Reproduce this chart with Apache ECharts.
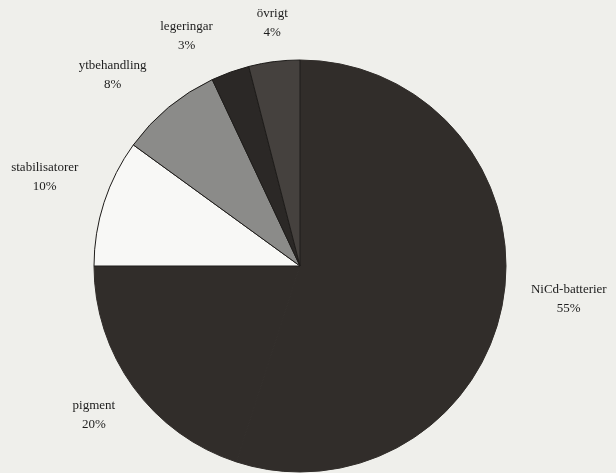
<!DOCTYPE html>
<html><head><meta charset="utf-8">
<script src="https://cdn.jsdelivr.net/npm/echarts@6/dist/echarts.min.js"></script>
<style>html,body{margin:0;padding:0;background:#efefeb}#c{width:616px;height:473px}</style>
</head><body><div id="c"></div>
<script>
const categories = ['NiCd-batterier', 'pigment', 'stabilisatorer', 'ytbehandling', 'legeringar', 'övrigt'];
const values = [55, 20, 10, 8, 3, 4];
const sliceColors = ['#312d2a', '#312d2a', '#f8f8f6', '#8b8b89', '#2b2826', '#45413e'];
const sliceBorders = ['#312d2a', '#312d2a', '#1e1c1a', '#1e1c1a', '#1e1c1a', '#1e1c1a'];
const labelNudges = [[11, -8], [5, -4], [-7, -8], [-21, 10], [-25, 16], [5, 16]];

const pieData = categories.map((name, i) => ({
  name: name, value: values[i],
  itemStyle: { color: sliceColors[i], borderColor: sliceBorders[i] }
}));

const chart = echarts.init(document.getElementById('c'), null, { renderer: 'canvas' });
chart.setOption({
  backgroundColor: '#efefeb',
  animation: false,
  series: [
    {
      type: 'pie',
      center: [300, 266],
      radius: 206,
      startAngle: 90,
      clockwise: true,
      silent: true,
      data: pieData,
      itemStyle: { borderWidth: 1 },
      label: { show: false },
      labelLine: { show: false },
      emphasis: { disabled: true }
    },
    {
      type: 'pie',
      center: [300, 266],
      radius: [250, 266],
      startAngle: 90,
      clockwise: true,
      silent: true,
      data: categories.map((name, i) => ({ name: name, value: values[i] })),
      itemStyle: { color: 'rgba(0,0,0,0)' },
      label: {
        show: true,
        position: 'inside',
        formatter: '{b}\n{c}%',
        fontFamily: 'Liberation Serif',
        fontSize: 13,
        lineHeight: 19,
        color: '#1c1c1c',
        align: 'center'
      },
      labelLayout: function (p) {
        const n = labelNudges[p.dataIndex];
        return { dx: n[0], dy: n[1] };
      },
      labelLine: { show: false },
      emphasis: { disabled: true }
    }
  ]
});
</script>
</body></html>
